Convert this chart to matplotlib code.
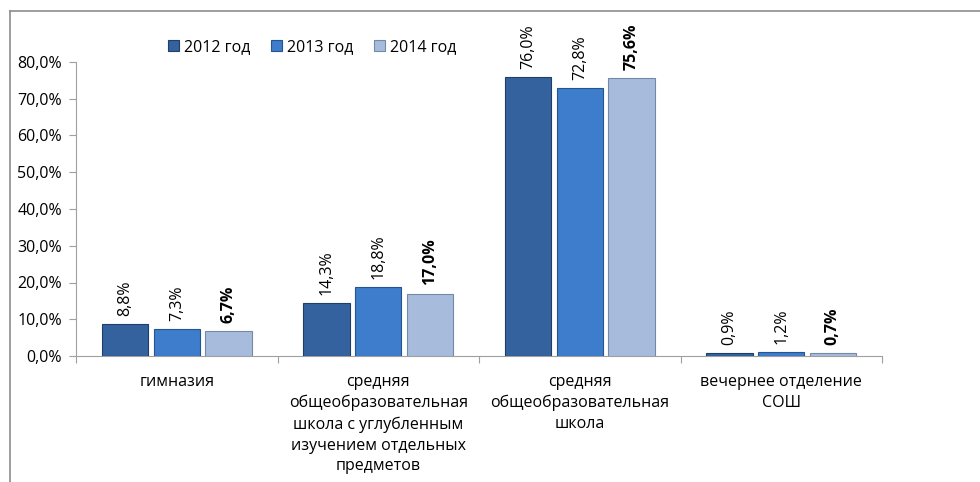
import numpy as np
import matplotlib
matplotlib.use("Agg")
import matplotlib.pyplot as plt
from matplotlib.lines import Line2D

plt.rcParams['font.family'] = ['Open Sans', 'DejaVu Sans']

# données
categories = ["гимназия",
              "средняя\nобщеобразовательная\nшкола с углубленным\nизучением отдельных\nпредметов",
              "средняя\nобщеобразовательная\nшкола",
              "вечернее отделение\nСОШ"]
annees = ["2012 год", "2013 год", "2014 год"]
v2012 = [8.8, 14.3, 76.0, 0.9]
v2013 = [7.3, 18.8, 72.8, 1.2]
v2014 = [6.7, 17.0, 75.6, 0.7]
yticks = [0, 10, 20, 30, 40, 50, 60, 70, 80]

couleurs = ["#34629e", "#3d7dcb", "#a7bbdd"]
bords = ["#1f3f68", "#24558f", "#7488a8"]
taille = 11.5

fig = plt.figure(figsize=(9.8, 4.82), dpi=100)
ax = fig.add_axes([76/980, 126/482, 806/980, 294/482])

x = np.arange(len(categories))
series = [v2012, v2013, v2014]
for i, vals in enumerate(series):
    pos = x + (i - 1) * 0.256
    ax.bar(pos, vals, width=0.23, color=couleurs[i], edgecolor=bords[i],
           linewidth=0.8, label=annees[i], zorder=3)
    for xi, v in zip(pos, vals):
        txt = ("%.1f%%" % v).replace(".", ",")
        ax.text(xi, v + 2.2, txt, rotation=90, ha="center", va="bottom",
                fontsize=taille, fontweight="bold" if i == 2 else "normal")

ax.set_xlim(-0.5, len(categories) - 0.5)
ax.set_ylim(0, 80)
ax.set_yticks(yticks)
ax.set_yticklabels([("%.1f%%" % t).replace(".", ",") for t in yticks], fontsize=taille)
ax.set_xticks(np.arange(-0.5, len(categories), 1.0))
ax.set_xticklabels([])
ax.set_xticks(x, minor=True)
ax.set_xticklabels(categories, minor=True, fontsize=taille, linespacing=1.4, va="top")
ax.tick_params(axis="x", which="minor", length=0, pad=13)
ax.tick_params(axis="x", which="major", length=5, color="#a0a0a0")
ax.tick_params(axis="y", length=5, color="#a0a0a0", pad=5)
for s in ["top", "right"]:
    ax.spines[s].set_visible(False)
ax.spines["left"].set_color("#a0a0a0")
ax.spines["bottom"].set_color("#a0a0a0")

fig.legend(loc="center", bbox_to_anchor=(312/980, 1 - 47/482), ncol=3,
           frameon=False, fontsize=taille, handlelength=0.7, handleheight=0.7,
           handletextpad=0.3, columnspacing=1.3)

# cadre
fig.add_artist(Line2D([10/980, 1], [1 - 10.5/482, 1 - 10.5/482], color="#8c8c8c", lw=1.2))
fig.add_artist(Line2D([10/980, 10/980], [0, 1 - 10.5/482], color="#8c8c8c", lw=1.2))

fig.savefig("out.png", dpi=100)
